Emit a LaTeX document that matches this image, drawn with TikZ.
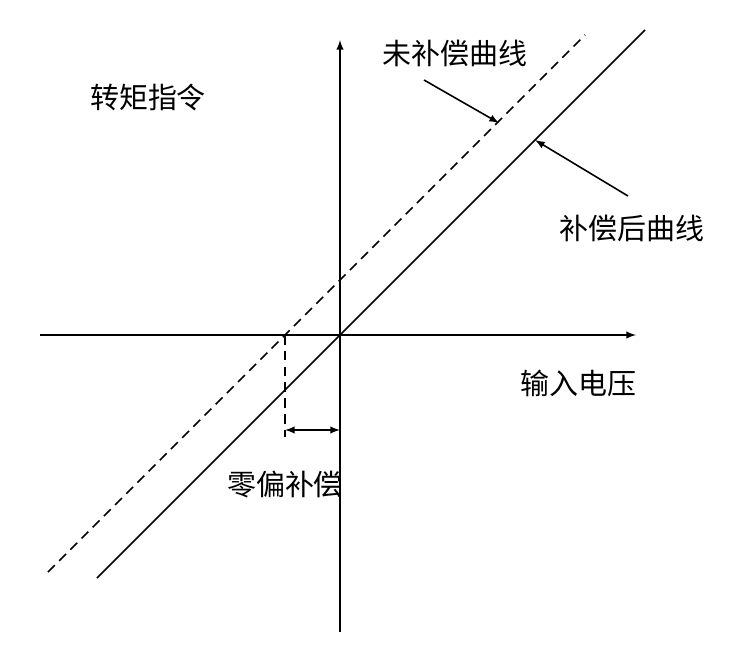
\documentclass[tikz,border=0pt]{standalone}
\usepackage{fontspec}
\newfontfamily\cjk{Noto Sans CJK SC}
\usetikzlibrary{calc}
\begin{document}
\begin{tikzpicture}[x=0.02cm,y=-0.02cm,font=\cjk\fontsize{16.5}{20}\selectfont,
    lbl/.style={inner sep=1pt},
    dsh/.style={dash pattern=on 5.5pt off 3.5pt}]

        \useasboundingbox (0,0) rectangle (736,646);
        \def\linethick{0.9pt}

        \coordinate (O) at (340, 335);
        \coordinate (Z) at (285, 335);

        % axes
        \draw[-latex, line width=\linethick] (40, 335) -- (636, 335);
        \draw[-latex, line width=\linethick] (340, 632) -- (340, 40);

        % curves
        \draw[line width=\linethick] (97, 578) -- (645, 30);
        \draw[dsh, line width=\linethick] (48, 572) -- (585, 35);

        % zero offset
        \draw[dsh, line width=\linethick] (Z) -- (285, 437);
        \draw[latex-latex, line width=\linethick] (285, 430) -- (340, 430);

        % labels
        \node[lbl] (ylab) at (148, 97) {转矩指令};
        \node[lbl] (xlab) at (578, 383) {输入电压};
        \node[lbl] (zlab) at (285, 485) {零偏补偿};
        \node[lbl] (uncomp) at (455, 53) {未补偿曲线};
        \node[lbl] (comp) at (632, 228) {补偿后曲线};

        \coordinate (p1) at (499, 123);
        \coordinate (p2) at (535, 140);
        \draw[-latex, line width=\linethick] (424, 80) -- (p1);
        \draw[-latex, line width=\linethick] (628, 196) -- (p2);

\end{tikzpicture}
\end{document}
